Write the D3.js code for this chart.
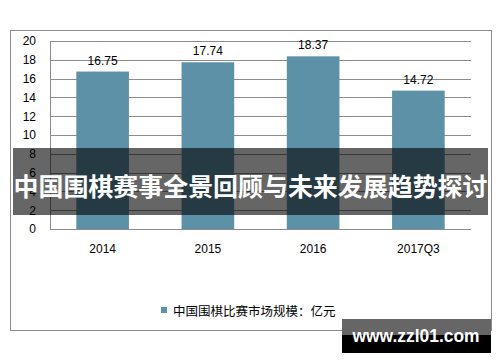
<!DOCTYPE html>
<html><head><meta charset="utf-8">
<script src="https://cdn.jsdelivr.net/npm/d3@7/dist/d3.min.js"></script>
<style>html,body{margin:0;padding:0;background:#fff;}svg{display:block;}</style>
</head><body><svg id="c" width="500" height="362"></svg>
<script>
const categories = ["2014", "2015", "2016", "2017Q3"];
const values = [16.75, 17.74, 18.37, 14.72];
const yTicks = [0, 2, 4, 6, 8, 10, 12, 14, 16, 18, 20];
const legendLabel = "中国围棋比赛市场规模：亿元";
const bannerTitle = "中国围棋赛事全景回顾与未来发展趋势探讨";
const watermark = "www.zzl01.com";

(function () {
const svg = d3.select("#c");
const font = "'Liberation Sans', 'Noto Sans CJK SC', sans-serif";
const cjk = "'Noto Sans CJK SC', sans-serif";
const barColor = "#5d91a7";

// outer frame
svg.append("rect").attr("x", 10.5).attr("y", 30.5).attr("width", 481).attr("height", 300)
  .attr("fill", "#fff").attr("stroke", "#8c8c8c").attr("stroke-width", 1);

const pl = 50, pr = 471, pt = 41, pb = 229;
const x = d3.scaleBand().domain(categories).range([pl, pr]).paddingInner(0.5).paddingOuter(0.25);
const y = d3.scaleLinear().domain([0, 20]).range([pb, pt]);

// gridlines
svg.append("g").selectAll("line").data(yTicks).join("line")
  .attr("x1", pl).attr("x2", pr)
  .attr("y1", d => Math.round(y(d)) + 0.5).attr("y2", d => Math.round(y(d)) + 0.5)
  .attr("stroke", "#8c8c8c").attr("stroke-width", 1);

// left axis line
svg.append("line").attr("x1", pl + 0.5).attr("x2", pl + 0.5).attr("y1", pt).attr("y2", pb + 0.5)
  .attr("stroke", "#8c8c8c");

// y axis labels
const yAxis = d3.axisLeft(y).tickValues(yTicks).tickSize(0).tickPadding(14);
const ya = svg.append("g").attr("transform", `translate(${pl},0)`).call(yAxis);
ya.select(".domain").remove();
ya.selectAll("text").attr("font-family", font).attr("font-size", 12).attr("fill", "#000");

// bars
svg.append("g").selectAll("rect").data(values).join("rect")
  .attr("x", (d, i) => x(categories[i])).attr("width", x.bandwidth())
  .attr("y", d => y(d)).attr("height", d => y(0) - y(d))
  .attr("fill", barColor);

// value labels
svg.append("g").selectAll("text").data(values).join("text")
  .attr("x", (d, i) => x(categories[i]) + x.bandwidth() / 2)
  .attr("y", d => y(d) - 7)
  .attr("text-anchor", "middle").attr("font-family", font).attr("font-size", 12).attr("fill", "#000")
  .text(d => d.toFixed(2));

// x axis labels
const xAxis = d3.axisBottom(x).tickSize(0).tickPadding(15);
const xa = svg.append("g").attr("transform", `translate(0,${pb})`).call(xAxis);
xa.select(".domain").remove();
xa.selectAll("text").attr("font-family", font).attr("font-size", 12).attr("fill", "#000");

// legend
svg.append("rect").attr("x", 161).attr("y", 307).attr("width", 6).attr("height", 6).attr("fill", barColor);
svg.append("text").attr("x", 173).attr("y", 310).attr("dominant-baseline", "central")
  .attr("font-family", cjk).attr("font-size", 12.5).attr("fill", "#000").text(legendLabel);

// banner overlay
svg.append("rect").attr("x", 13).attr("y", 148).attr("width", 475).attr("height", 67)
  .attr("fill", "#000").attr("fill-opacity", 0.6);
svg.append("text").attr("x", 250.5).attr("y", 185).attr("text-anchor", "middle").attr("dominant-baseline", "central")
  .attr("font-family", cjk).attr("font-weight", "bold").attr("font-size", 25).attr("fill", "#fff")
  .attr("textLength", 474).attr("lengthAdjust", "spacingAndGlyphs")
  .text(bannerTitle);

// watermark
svg.append("rect").attr("x", 342).attr("y", 319).attr("width", 149).attr("height", 34).attr("fill", "#000");
svg.append("rect").attr("x", 342).attr("y", 319).attr("width", 149).attr("height", 16).attr("fill", "#666");
svg.append("text").attr("x", 416).attr("y", 342).attr("text-anchor", "middle")
  .attr("font-family", "'Liberation Sans', Arial, sans-serif").attr("font-weight", "bold").attr("font-size", 18)
  .attr("fill", "#fff").attr("textLength", 127).attr("lengthAdjust", "spacingAndGlyphs").text(watermark);
})();
</script></body></html>
